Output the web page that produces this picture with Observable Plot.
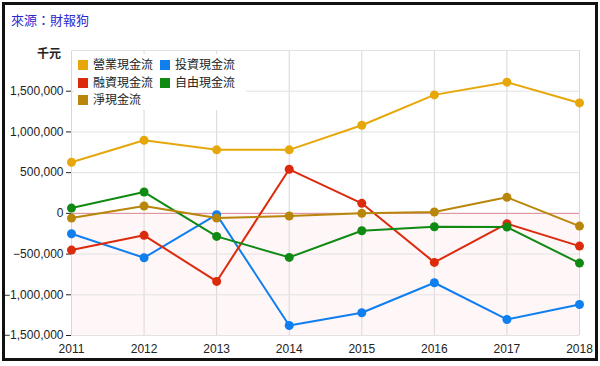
<!DOCTYPE html>
<html><head><meta charset="utf-8">
<script src="https://cdn.jsdelivr.net/npm/d3@7"></script>
<script src="https://cdn.jsdelivr.net/npm/@observablehq/plot@0.6"></script>
<style>
body{margin:0;background:#fff;font-family:"Liberation Sans",Arial,sans-serif;}
#wrap{position:relative;width:600px;height:366px;overflow:hidden;}
#frame{position:absolute;left:2px;top:2px;width:590px;height:353px;border:3px solid #111;pointer-events:none;}
#title{position:absolute;left:11px;top:10px;font-size:13px;color:#2a2ad0;font-family:"Noto Sans CJK TC","Liberation Sans",sans-serif;}
#unit{position:absolute;left:37px;top:44px;font-size:12px;font-weight:bold;color:#222;font-family:"Noto Sans CJK TC",sans-serif;}
#legend{position:absolute;left:74px;top:54px;width:168px;background:#fff;font-size:12px;color:#222;font-family:"Noto Sans CJK TC",sans-serif;line-height:17.5px;padding:1px 0 2px 4px;}
#legend .it{display:inline-block;white-space:nowrap;margin-right:7px;}
#legend .sw{display:inline-block;width:10px;height:10px;margin-right:5px;vertical-align:-1px;}
#chart{position:absolute;left:0;top:0;}
</style></head>
<body><div id="wrap"><div id="chart"></div><div id="title">來源：財報狗</div><div id="unit">千元</div><div id="legend"></div><div id="frame"></div></div>
<script>
const years = [2011, 2012, 2013, 2014, 2015, 2016, 2017, 2018];
const seriesNames = ["營業現金流", "投資現金流", "融資現金流", "自由現金流", "淨現金流"];
const colors = ["#e6a70a", "#0f7ff0", "#dc2a0c", "#0f8a12", "#b8860b"];
const operating = [627000, 898000, 780000, 780000, 1082000, 1455000, 1611000, 1356000];
const investing = [-250000, -545000, -16000, -1377000, -1221000, -852000, -1303000, -1119000];
const financing = [-451000, -270000, -836000, 541000, 123000, -602000, -127000, -402000];
const freeCF = [65000, 262000, -283000, -541000, -213000, -164000, -168000, -611000];
const netCF = [-58000, 90000, -58000, -33000, 0, 16000, 197000, -156000];
const yTicks = [-1500000, -1000000, -500000, 0, 500000, 1000000, 1500000];
const yDomain = [-1500000, 2000000];

const allSeries = [operating, investing, financing, freeCF, netCF];
const data = [];
allSeries.forEach((vals, si) => vals.forEach((v, i) => data.push({year: years[i], value: v, series: seriesNames[si]})));

const fmt = d3.format(",");
const chart = Plot.plot({
  width: 600, height: 366,
  marginLeft: 71, marginRight: 21, marginTop: 50, marginBottom: 31,
  style: {fontFamily: '"Liberation Sans", Arial, sans-serif', fontSize: "12px", color: "#222", background: "transparent"},
  x: {domain: [years[0], years[years.length - 1]], ticks: years, tickFormat: d => String(d), tickSize: 0, tickPadding: 9, label: null},
  y: {domain: yDomain, ticks: yTicks, tickFormat: fmt, tickSize: 5, tickPadding: 3, label: null},
  color: {domain: seriesNames, range: colors},
  marks: [
    Plot.rect([{y1: yDomain[0], y2: 0}], {x1: years[0], x2: years[years.length - 1], y1: "y1", y2: "y2", fill: "#fff6f8"}),
    Plot.gridX(years, {stroke: "#d8d8d8", strokeOpacity: 1}),
    Plot.gridY(yTicks.concat([yDomain[1]]), {stroke: "#e2e2e2", strokeOpacity: 1, strokeWidth: 1}),
    Plot.ruleY([0], {stroke: "#e08a95", strokeWidth: 1}),
    Plot.line(data, {x: "year", y: "value", z: "series", stroke: "series", strokeWidth: 2}),
    Plot.dot(data, {x: "year", y: "value", fill: "series", r: 4.5})
  ]
});
document.getElementById("chart").appendChild(chart);

const lg = document.getElementById("legend");
seriesNames.forEach((n, i) => {
  const s = document.createElement("span");
  s.className = "it";
  s.innerHTML = `<span class="sw" style="background:${colors[i]}"></span>${n}`;
  lg.appendChild(s);
  if (i % 2 === 1) lg.appendChild(document.createElement("br"));
});
</script></body></html>
